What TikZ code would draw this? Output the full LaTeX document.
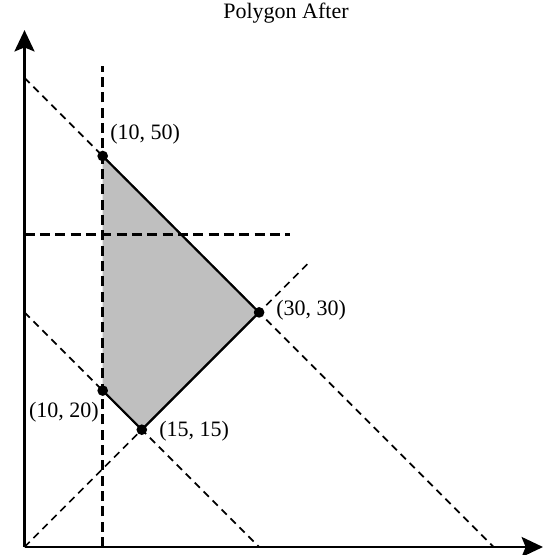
\documentclass[tikz,border=0pt]{standalone}
\usepackage{fontspec}
\setmainfont{Liberation Serif}
\usetikzlibrary{arrows.meta}
\begin{document}
\begin{tikzpicture}[x=0.75pt,y=-0.75pt,
  axis/.style={line width=2pt,-{Stealth[length=16pt,width=15pt,inset=3pt]}},
  thindash/.style={line width=1.3pt, dash pattern=on 5.5pt off 4pt},
  thickdash/.style={line width=2.3pt, dash pattern=on 7.5pt off 4pt},
  vertex/.style={circle, fill=black, inner sep=0pt, minimum size=8pt},
  lbl/.style={font=\fontsize{16.5}{19}\selectfont, inner sep=0pt},
]
\useasboundingbox (0,0) rectangle (543,555);
\node[lbl] (title) at (286,13) {Polygon After};
\begin{scope}[shift={(24.5,547)}, x=5.865pt, y=5.865pt]
  \coordinate (O) at (0,0);
  \coordinate (xend) at (66.3,0);
  \coordinate (yend) at (0,66.1);
  % dashed line end points
  \coordinate (v1) at (10,0);  \coordinate (v2) at (10,61.5);
  \coordinate (h1) at (0,40);  \coordinate (h2) at (34,40);
  \coordinate (a1) at (0,60);  \coordinate (a2) at (60,0);
  \coordinate (b1) at (0,30);  \coordinate (b2) at (30,0);
  \coordinate (c2) at (36.3,36.3);
  % polygon vertices
  \coordinate (P1) at (10,50);
  \coordinate (P2) at (30,30);
  \coordinate (P3) at (15,15);
  \coordinate (P4) at (10,20);
  \fill[black!25] (P1) -- (P2) -- (P3) -- (P4) -- cycle;
  \draw[thindash] (a1) -- (a2);
  \draw[thindash] (b1) -- (b2);
  \draw[thindash] (O) -- (c2);
  \draw[thickdash] (v1) -- (v2);
  \draw[thickdash] (h1) -- (h2);
  \draw[line width=1.6pt, line join=round] (P1) -- (P2) -- (P3) -- (P4);
  \draw[axis] (O) -- (xend);
  \draw[axis] (O) -- (yend);
  \node[vertex] (n1) at (P1) {};
  \node[vertex] (n2) at (P2) {};
  \node[vertex] (n3) at (P3) {};
  \node[vertex] (n4) at (P4) {};
\end{scope}
\node[lbl, anchor=west] (l1) at (110,134) {(10, 50)};
\node[lbl, anchor=west] (l2) at (276,310) {(30, 30)};
\node[lbl, anchor=west] (l3) at (159,431) {(15, 15)};
\node[lbl, anchor=east] (l4) at (99,412) {(10, 20)};
\end{tikzpicture}
\end{document}
